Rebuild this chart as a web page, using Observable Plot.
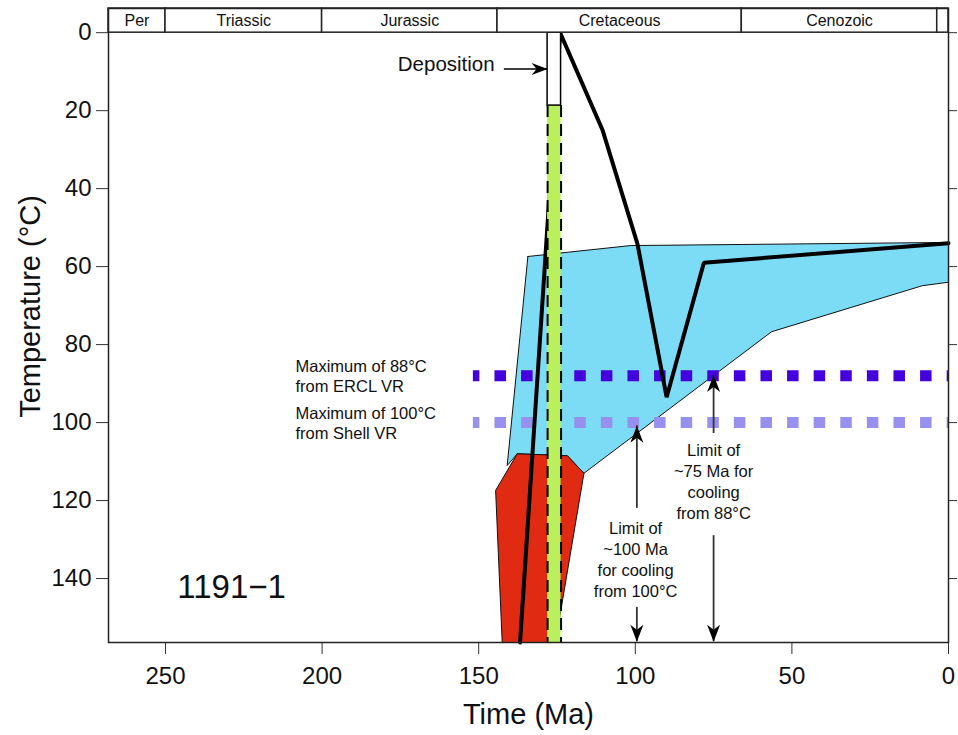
<!DOCTYPE html>
<html><head><meta charset="utf-8">
<script src="https://cdn.jsdelivr.net/npm/d3@7"></script>
<script src="https://cdn.jsdelivr.net/npm/@observablehq/plot@0.6"></script>
<style>body{margin:0;background:#fff}</style>
</head><body><div id="chart"></div>
<script>
// ---- data ----
const periodNames = ["Per", "Triassic", "Jurassic", "Cretaceous", "Cenozoic", ""];
const periodOld   = [268.2, 250, 200, 144, 66, 3.6];
const periodYoung = [250, 200, 144, 66, 3.6, 0];

const xTicks = [250, 200, 150, 100, 50, 0];
const yTicks = [0, 20, 40, 60, 80, 100, 120, 140];

// time-temperature path (Ma, °C)
const pathAge  = [136.8, 124.0, 110.4, 99.3, 90.0, 78.1, 0];
const pathTemp = [156.4, 0, 25.1, 54.2, 93.5, 59.0, 54.0];

// cyan envelope
const cyanAge  = [134.3, 101.5, 0, 0, 8.4, 56.5, 116.4, 121.7, 137.7, 140.9, 134.3];
const cyanTemp = [57.4, 54.6, 53.8, 64.0, 64.9, 76.7, 113.0, 108.5, 108.0, 111.0, 57.4];

// red envelope
const redAge  = [137.7, 121.7, 116.4, 125.5, 142.5, 144.6, 137.7];
const redTemp = [108.0, 108.5, 113.0, 156.4, 156.4, 117.4, 108.0];

// deposition interval
const depOld = 128.0, depYoung = 123.7, depBottom = 18.7;
const bandTop = -6.2, plotBottom = 156.4;

// VR maxima
const vrTemps  = [88, 100];
const vrColors = ["#4400dd", "#9890ee"];
const vrStart  = 151.7;
const vrLabels = ["Maximum of 88°C\nfrom ERCL VR", "Maximum of 100°C\nfrom Shell VR"];
const vrLabelAge = 208.5;

// limit arrows
const arrowX    = [99.5, 99.5, 75, 75];
const arrowFrom = [122.0, 147.4, 102.8, 129.0];
const arrowTo   = [100.8, 156.2, 87.8, 156.2];
const limitLabels = ["Limit of\n~100 Ma\nfor cooling\nfrom 100°C", "Limit of\n~75 Ma for\ncooling\nfrom 88°C"];
const limitLabelAge  = [99.9, 75.0];
const limitLabelTemp = [135.0, 115.0];

// deposition arrow
const depArrowFrom = 141.8, depArrowTemp = 9.3;
const depLabelAge = 144.9, depLabelTemp = 8.1;

const wellName = "1191−1", wellAge = 228.9, wellTemp = 142.2;

// ---- derived tables ----
const periods = periodNames.map((n, i) => ({name: n, x1: periodOld[i], x2: periodYoung[i], mid: (periodOld[i] + periodYoung[i]) / 2}));
const path = pathAge.map((a, i) => ({a, t: pathTemp[i]}));
const cyan = cyanAge.map((a, i) => ({a, t: cyanTemp[i]}));
const red = redAge.map((a, i) => ({a, t: redTemp[i]}));
const vr = vrTemps.map((t, i) => ({t, c: vrColors[i], label: vrLabels[i]}));
const arrows = arrowX.map((x, i) => ({x, from: arrowFrom[i], to: arrowTo[i], up: arrowTo[i] < arrowFrom[i]}));
const limits = limitLabels.map((s, i) => ({s, a: limitLabelAge[i], t: limitLabelTemp[i]}));

// arrowhead symbols (tip at origin)
const headUp = {draw(c) { c.moveTo(0, 0); c.lineTo(-6.5, 17); c.lineTo(0, 12); c.lineTo(6.5, 17); c.closePath(); }};
const headDown = {draw(c) { c.moveTo(0, 0); c.lineTo(-6.5, -17); c.lineTo(0, -12); c.lineTo(6.5, -17); c.closePath(); }};
const headRight = {draw(c) { c.moveTo(0, 0); c.lineTo(-16, -6); c.lineTo(-11, 0); c.lineTo(-16, 6); c.closePath(); }};

const font = "'Liberation Sans', Arial, Helvetica, sans-serif";

const chart = Plot.plot({
  width: 958, height: 735,
  marginLeft: 108, marginRight: 10, marginTop: 8, marginBottom: 93,
  x: {domain: [268.2, 0]},
  y: {domain: [plotBottom, bandTop]},
  style: {fontFamily: font, color: "#111", background: "#fff"},
  marks: [
    // envelopes
    Plot.line(cyan, {x: "a", y: "t", fill: "#7ddcf5", stroke: "#111", strokeWidth: 1}),
    Plot.line(red, {x: "a", y: "t", fill: "#e02a12", stroke: "#111", strokeWidth: 1}),
    // VR dotted lines
    Plot.ruleY(vr, {y: "t", x1: vrStart, x2: 0, stroke: "c", strokeWidth: 11, strokeDasharray: "11.5,15.1", strokeDashoffset: 5}),
    Plot.text(vr, {x: vrLabelAge, y: "t", text: "label", textAnchor: "start", fontSize: 16.5, lineHeight: 1.22, fill: "#111"}),
    // thermal path
    Plot.line(path, {x: "a", y: "t", stroke: "#000", strokeWidth: 4, strokeLinejoin: "miter"}),
    // deposition bar
    Plot.rect([0], {x1: depOld, x2: depYoung, y1: depBottom, y2: plotBottom, fill: "#baf05c"}),
    Plot.ruleX([depOld, depYoung], {y1: depBottom, y2: plotBottom, stroke: "#000", strokeWidth: 2, strokeDasharray: "12,7"}),
    Plot.rect([0], {x1: depOld, x2: depYoung, y1: 0, y2: depBottom, fill: "#fff", stroke: "#000", strokeWidth: 1.5}),
    // deposition arrow
    Plot.ruleY([depArrowTemp], {x1: depArrowFrom, x2: depOld, stroke: "#000", strokeWidth: 1.5}),
    Plot.dot([0], {x: depOld, y: depArrowTemp, symbol: headRight, fill: "#000", stroke: null}),
    Plot.text(["Deposition"], {x: depLabelAge, y: depLabelTemp, text: d => d, textAnchor: "end", fontSize: 20.5, fill: "#111"}),
    // limit arrows
    Plot.ruleX(arrows, {x: "x", y1: "from", y2: "to", stroke: "#333", strokeWidth: 1.8}),
    Plot.dot(arrows.filter(d => d.up), {x: "x", y: "to", symbol: headUp, fill: "#000", stroke: null}),
    Plot.dot(arrows.filter(d => !d.up), {x: "x", y: "to", symbol: headDown, fill: "#000", stroke: null}),
    Plot.text(limits, {x: "a", y: "t", text: "s", fontSize: 16.5, lineHeight: 1.27, fill: "#111"}),
    // well name
    Plot.text([wellName], {x: wellAge, y: wellTemp, text: d => d, fontSize: 33, fill: "#111"}),
    // period band
    Plot.rect(periods, {x1: "x1", x2: "x2", y1: bandTop, y2: 0, fill: "#fff", stroke: "#222", strokeWidth: 1.5}),
    Plot.text(periods, {x: "mid", y: bandTop / 2, text: "name", fontSize: 16, fill: "#111"}),
    // axes
    Plot.axisX({ticks: xTicks, tickSize: 12, tickPadding: 12, fontSize: 24, label: null, stroke: "#333"}),
    Plot.axisY({ticks: yTicks, tickSize: 12, tickPadding: 5, fontSize: 24, label: null, stroke: "#333"}),
    Plot.axisY({anchor: "right", ticks: yTicks, tickSize: 8, tickFormat: () => "", label: null, stroke: "#333"}),
    Plot.frame({stroke: "#222", strokeWidth: 1.5}),
    Plot.text(["Time (Ma)"], {frameAnchor: "bottom", dy: 72, lineAnchor: "middle", text: d => d, fontSize: 29, fill: "#111"}),
    Plot.text(["Temperature (°C)"], {frameAnchor: "left", dx: -78, dy: -19, rotate: -90, textAnchor: "middle", lineAnchor: "middle", text: d => d, fontSize: 29, fill: "#111"})
  ]
});
document.getElementById("chart").append(chart);
</script>
</body></html>
